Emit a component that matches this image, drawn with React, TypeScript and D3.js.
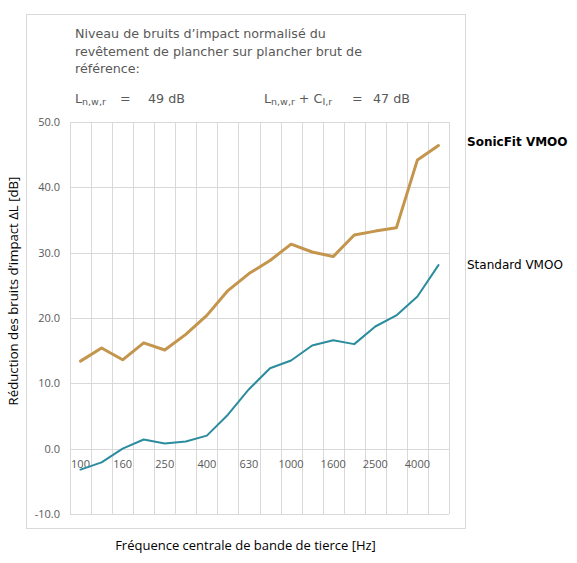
import * as d3 from 'd3'

const bands = ['100', '125', '160', '200', '250', '315', '400', '500', '630', '800',
  '1000', '1250', '1600', '2000', '2500', '3150', '4000', '5000']
const tickShown = ['100', '160', '250', '400', '630', '1000', '1600', '2500', '4000']
const sonicFit = [13.4, 15.4, 13.6, 16.2, 15.1, 17.5, 20.4, 24.2, 26.8, 28.8,
  31.3, 30.1, 29.4, 32.7, 33.3, 33.8, 44.2, 46.4]
const standard = [-3.2, -2.1, 0.0, 1.4, 0.8, 1.1, 2.0, 5.2, 9.1, 12.3,
  13.5, 15.8, 16.6, 16.0, 18.7, 20.4, 23.3, 28.1]
const yTicks = [-10, 0, 10, 20, 30, 40, 50]
const titleLines = [
  'Niveau de bruits d\u2019impact normalisé du',
  'revêtement de plancher sur plancher brut de',
  'référence:',
]

const W = 577
const H = 563
const PLOT = { left: 70, right: 449, top: 122, bottom: 514 }
const GOLD = '#c4954c'
const TEAL = '#2b8c9e'
const GRID = '#d9d9d9'
const MUTED = '#595959'
const SANS = '"Open Sans", "Noto Sans", sans-serif'
const VERD = '"DejaVu Sans", Verdana, sans-serif'

export default function App() {
  const x = d3.scaleBand<string>().domain(bands).range([PLOT.left, PLOT.right])
  const y = d3.scaleLinear().domain([-10, 50]).range([PLOT.bottom, PLOT.top])
  const cx = (b: string) => x(b)! + x.bandwidth() / 2

  const line = d3.line<number>()
    .x((_d, i) => cx(bands[i]))
    .y(d => y(d))

  const edges = bands.map(b => x(b)!).concat([PLOT.right])

  return (
    <svg width={W} height={H} viewBox={`0 0 ${W} ${H}`}
      style={{ position: 'absolute', left: 0, top: 0, background: '#fff' }}>
      {/* chart area border */}
      <rect x={26.5} y={14.5} width={439} height={514} fill="none" stroke={GRID} />

      {/* header */}
      <g fontFamily={VERD} fontSize={12.7} fill={MUTED}>
        {titleLines.map((t, i) => (
          <text key={i} x={75} y={38 + i * 17.5}>{t}</text>
        ))}
        <text x={75} y={103}>
          L<tspan fontSize={9.5} dy={2}>n,w,r</tspan>
        </text>
        <text x={120} y={103}>=</text>
        <text x={148} y={103}>49 dB</text>
        <text x={264} y={103}>
          L<tspan fontSize={9.5} dy={2}>n,w,r</tspan>
          <tspan dy={-2}> + C</tspan>
          <tspan fontSize={9.5} dy={2}>I,r</tspan>
        </text>
        <text x={352} y={103}>=</text>
        <text x={373} y={103}>47 dB</text>
      </g>

      {/* grid */}
      <g stroke={GRID} strokeWidth={1}>
        {edges.map((e, i) => (
          <line key={'v' + i} x1={Math.round(e) + 0.5} x2={Math.round(e) + 0.5}
            y1={PLOT.top} y2={PLOT.bottom} />
        ))}
        {yTicks.map(t => (
          <line key={'h' + t} x1={PLOT.left} x2={PLOT.right}
            y1={Math.round(y(t)) + 0.5} y2={Math.round(y(t)) + 0.5} />
        ))}
      </g>

      {/* y tick labels */}
      <g fontFamily={SANS} fontSize={11} fill={MUTED} textAnchor="end">
        {yTicks.map(t => (
          <text key={t} x={60} y={y(t)} dy="0.35em">{t.toFixed(1)}</text>
        ))}
      </g>

      {/* x tick labels (sitting under the 0 line) */}
      <g fontFamily={SANS} fontSize={11} fill={MUTED} textAnchor="middle">
        {tickShown.map(b => (
          <text key={b} x={cx(b)} y={y(0) + 15} dy="0.35em">{b}</text>
        ))}
      </g>

      {/* series */}
      <path d={line(standard)!} fill="none" stroke={TEAL} strokeWidth={2}
        strokeLinejoin="round" strokeLinecap="round" />
      <path d={line(sonicFit)!} fill="none" stroke={GOLD} strokeWidth={3}
        strokeLinejoin="round" strokeLinecap="round" />

      {/* series labels */}
      <text x={467} y={y(sonicFit[sonicFit.length - 1]) - 4} dy="0.35em"
        fontFamily={VERD} fontSize={12} fontWeight="bold" fill="#000">SonicFit VMOO</text>
      <text x={467} y={y(standard[standard.length - 1])} dy="0.35em"
        fontFamily={VERD} fontSize={12} fill="#000">Standard VMOO</text>

      {/* axis titles */}
      <text transform={`translate(13,291) rotate(-90)`} textAnchor="middle" dy="0.35em"
        fontFamily={SANS} fontSize={13.2} fill="#000">Réduction des bruits d’impact ΔL [dB]</text>
      <text x={245.5} y={545} textAnchor="middle" dy="0.35em"
        fontFamily={SANS} fontSize={13} fill="#000">Fréquence centrale de bande de tierce [Hz]</text>
    </svg>
  )
}
